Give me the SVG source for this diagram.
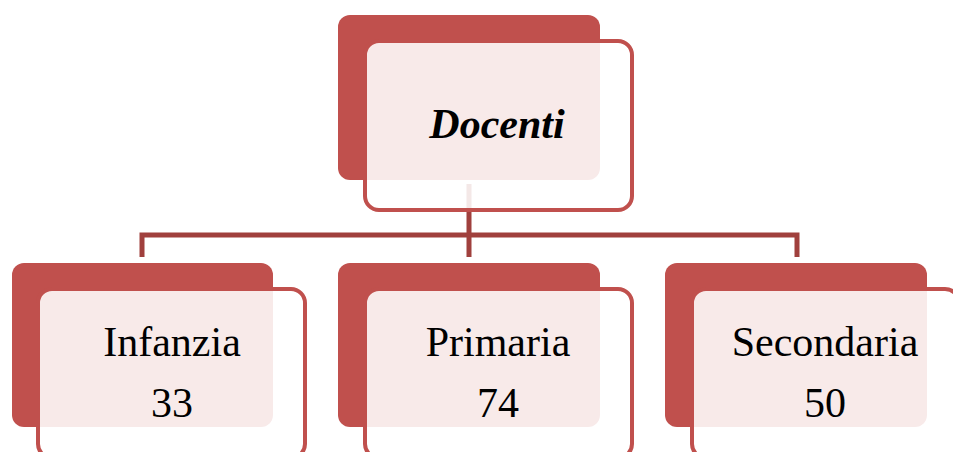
<svg xmlns="http://www.w3.org/2000/svg" width="953" height="452" viewBox="0 0 953 452">
  <style>
    .back { fill: #C0504D; }
    .frame { fill: #FFFFFF; fill-opacity: 0.88; stroke: #C0504D; stroke-width: 4; }
    .link { fill: none; stroke: #A0403D; stroke-width: 5; }
    .label { font-family: "Liberation Serif", "Times New Roman", serif; font-size: 42px; fill: #000000; text-anchor: middle; }
    .title { font-weight: bold; font-style: italic; }
  </style>
  <rect width="953" height="452" fill="#FFFFFF"/>

  <g id="connectors">
    <path class="link" d="M469,184 V235 M142,257 V235 H797 V257 M469,235 V257"/>
  </g>

  <g id="node-docenti">
    <rect class="back" x="338" y="15" width="262" height="165" rx="12"/>
    <rect class="frame" x="365" y="41" width="267" height="169" rx="14"/>
    <text class="label title" x="497" y="138">Docenti</text>
  </g>

  <g id="node-infanzia">
    <rect class="back" x="12" y="263" width="261" height="164" rx="12"/>
    <rect class="frame" x="38" y="289" width="267" height="169" rx="14"/>
    <text class="label" x="172" y="356">Infanzia</text>
    <text class="label" x="172" y="417">33</text>
  </g>

  <g id="node-primaria">
    <rect class="back" x="338" y="263" width="262" height="164" rx="12"/>
    <rect class="frame" x="365" y="289" width="267" height="169" rx="14"/>
    <text class="label" x="498" y="356">Primaria</text>
    <text class="label" x="498" y="417">74</text>
  </g>

  <g id="node-secondaria">
    <rect class="back" x="665" y="263" width="262" height="164" rx="12"/>
    <rect class="frame" x="692" y="289" width="267" height="169" rx="14"/>
    <text class="label" x="825" y="356">Secondaria</text>
    <text class="label" x="825" y="417">50</text>
  </g>
</svg>
